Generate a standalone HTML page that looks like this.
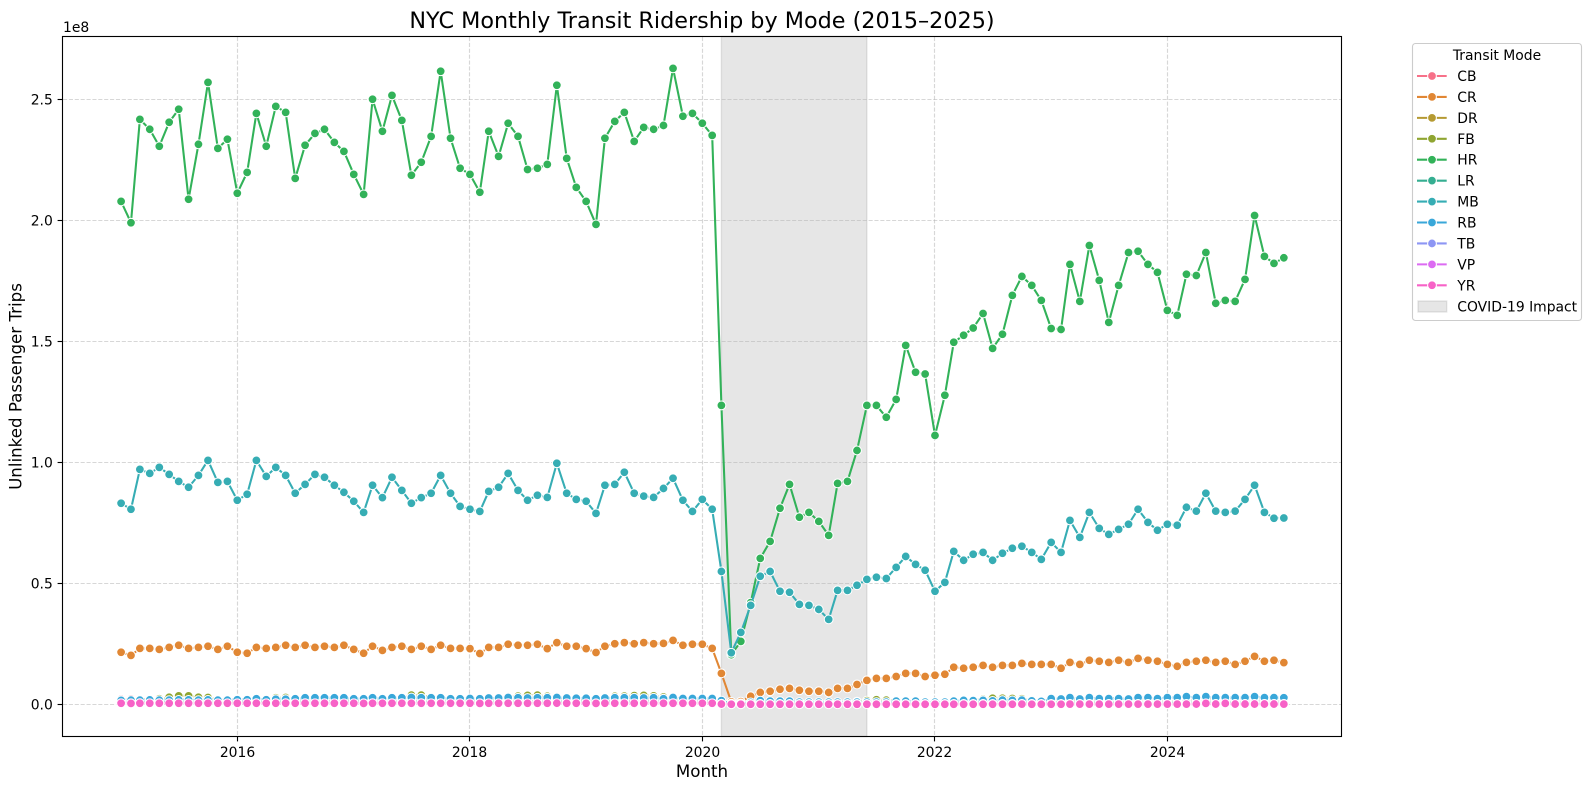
<!DOCTYPE html>
<html lang="en">
<head>
<meta charset="utf-8">
<title>NYC Monthly Transit Ridership by Mode</title>
<style>
html,body{margin:0;padding:0;background:#fff;}
svg{display:block;font-family:"DejaVu Sans","Liberation Sans",sans-serif;}
</style>
</head>
<body>
<svg id="chart" xmlns="http://www.w3.org/2000/svg" width="1591" height="790" viewBox="0 0 1591 790">
  <rect x="0" y="0" width="1591" height="790" fill="#ffffff"/>
  <text x="702" y="28" font-size="22.3" text-anchor="middle" fill="#000">NYC Monthly Transit Ridership by Mode (2015–2025)</text>
  <g id="span-layer"></g>
  <g id="grid-layer"></g>
  <g id="series-layer"></g>
  <rect x="62.5" y="36.5" width="1279" height="700" fill="none" stroke="#000" stroke-width="1.11"/>
  <g id="tick-layer"></g>
  <text x="63" y="32" font-size="13.9" fill="#000">1e8</text>
  <text x="702" y="777" font-size="16.67" text-anchor="middle" fill="#000">Month</text>
  <text x="21.7" y="386.5" font-size="16.67" text-anchor="middle" fill="#000" transform="rotate(-90 21.7 386.5)">Unlinked Passenger Trips</text>
  <g id="legend-layer">
    <rect x="1412.5" y="43.5" width="169" height="277" rx="3" ry="3" fill="#fff" fill-opacity="0.8" stroke="#cccccc" stroke-width="1.1"/>
    <text x="1497" y="60" font-size="13.9" text-anchor="middle" fill="#000">Transit Mode</text>
  </g>
</svg>
<script>
const months = ["2015-01","2015-02","2015-03","2015-04","2015-05","2015-06","2015-07","2015-08","2015-09","2015-10","2015-11","2015-12",
"2016-01","2016-02","2016-03","2016-04","2016-05","2016-06","2016-07","2016-08","2016-09","2016-10","2016-11","2016-12",
"2017-01","2017-02","2017-03","2017-04","2017-05","2017-06","2017-07","2017-08","2017-09","2017-10","2017-11","2017-12",
"2018-01","2018-02","2018-03","2018-04","2018-05","2018-06","2018-07","2018-08","2018-09","2018-10","2018-11","2018-12",
"2019-01","2019-02","2019-03","2019-04","2019-05","2019-06","2019-07","2019-08","2019-09","2019-10","2019-11","2019-12",
"2020-01","2020-02","2020-03","2020-04","2020-05","2020-06","2020-07","2020-08","2020-09","2020-10","2020-11","2020-12",
"2021-01","2021-02","2021-03","2021-04","2021-05","2021-06","2021-07","2021-08","2021-09","2021-10","2021-11","2021-12",
"2022-01","2022-02","2022-03","2022-04","2022-05","2022-06","2022-07","2022-08","2022-09","2022-10","2022-11","2022-12",
"2023-01","2023-02","2023-03","2023-04","2023-05","2023-06","2023-07","2023-08","2023-09","2023-10","2023-11","2023-12",
"2024-01","2024-02","2024-03","2024-04","2024-05","2024-06","2024-07","2024-08","2024-09","2024-10","2024-11","2024-12",
"2025-01"];

/* Monthly unlinked passenger trips, in millions */
const cb = [2.1,2.2,2.2,2.2,2.2,2.2,2.1,2.1,2.1,2.2,2.1,2.1,
2.0,2.0,2.2,2.1,2.1,2.1,2.0,2.0,2.1,2.1,2.0,2.0,
1.9,1.9,2.1,2.0,2.0,2.0,1.9,1.9,2.0,2.1,2.0,1.9,
1.9,1.8,2.0,2.0,2.0,1.9,1.9,1.9,1.9,2.0,1.9,1.9,
1.8,1.7,1.9,1.9,1.9,1.9,1.8,1.8,1.9,1.9,1.8,1.8,
1.8,1.7,1.0,0.1,0.1,0.2,0.3,0.3,0.4,0.4,0.4,0.4,
0.4,0.4,0.5,0.5,0.5,0.6,0.6,0.6,0.6,0.7,0.7,0.6,
0.6,0.6,0.7,0.7,0.7,0.7,0.7,0.7,0.8,0.8,0.8,0.7,
0.7,0.7,0.8,0.8,0.8,0.8,0.7,0.8,0.8,0.8,0.8,0.8,
0.8,0.8,0.8,0.8,0.9,0.8,0.8,0.8,0.8,0.9,0.8,0.8,
0.8];
const cr = [21.5,20.2,23.1,23.1,22.7,23.5,24.4,23.1,23.5,24.0,22.7,24.0,
21.5,21.1,23.5,23.1,23.5,24.4,23.5,24.4,23.5,24.0,23.5,24.4,
22.7,21.1,24.0,22.3,23.5,24.0,22.7,24.0,22.7,24.4,23.1,23.1,
23.0,21.0,23.5,23.5,24.8,24.4,24.4,24.8,23.0,25.5,24.0,24.0,
23.0,21.4,24.0,25.0,25.5,25.0,25.5,25.0,25.2,26.4,24.4,24.8,
24.8,23.1,12.8,1.0,1.1,3.3,4.9,5.4,6.2,6.6,5.8,5.4,
5.4,4.9,6.6,6.6,8.2,9.9,10.7,10.7,11.5,12.8,12.8,11.5,
12.0,12.4,15.3,14.9,15.3,16.1,15.3,16.1,16.1,16.9,16.5,16.5,
16.5,14.9,17.3,16.5,18.2,17.8,17.3,18.2,17.3,19.0,18.2,17.8,
16.5,15.7,17.3,17.8,18.2,17.3,17.8,16.5,17.8,19.8,17.8,18.2,
17.2];
const dr = [0.9,0.8,0.9,0.9,0.9,0.9,0.9,0.9,0.9,0.9,0.9,0.9,
0.9,0.9,0.9,0.9,0.9,0.9,0.9,0.9,0.9,1.0,0.9,0.9,
0.9,0.8,1.0,0.9,0.9,1.0,0.9,0.9,0.9,1.0,0.9,0.9,
0.9,0.8,0.9,0.9,1.0,1.0,0.9,1.0,0.9,1.0,0.9,0.9,
0.9,0.8,0.9,0.9,1.0,0.9,0.9,0.9,0.9,1.0,0.9,0.9,
0.9,0.8,0.5,0.1,0.1,0.2,0.2,0.2,0.2,0.3,0.2,0.2,
0.2,0.2,0.3,0.3,0.3,0.3,0.3,0.3,0.3,0.4,0.3,0.3,
0.3,0.3,0.4,0.4,0.4,0.4,0.4,0.4,0.4,0.5,0.4,0.4,
0.4,0.4,0.5,0.5,0.5,0.5,0.5,0.5,0.5,0.5,0.5,0.5,
0.5,0.5,0.5,0.5,0.6,0.5,0.5,0.5,0.5,0.6,0.5,0.5,
0.5];
const fb = [1.5,1.4,1.9,2.0,2.3,2.9,3.5,3.5,2.9,2.8,2.0,1.8,
1.5,1.4,1.8,2.0,2.7,2.8,2.5,2.5,2.2,2.0,1.9,1.7,
1.4,1.3,1.6,1.9,2.4,2.8,3.8,3.8,3.0,2.7,1.9,1.7,
1.4,1.3,1.7,2.0,3.1,3.4,3.7,3.8,3.3,3.1,2.0,1.8,
1.4,1.3,1.8,3.3,3.4,3.6,3.7,3.5,3.0,2.7,1.9,1.7,
1.3,1.2,0.7,0.1,0.2,0.5,0.9,1.0,0.9,0.8,0.6,0.5,
0.4,0.4,0.6,0.8,1.1,1.5,1.9,1.7,1.6,1.5,1.1,0.9,
0.7,0.7,1.0,1.4,1.8,2.1,2.5,2.5,2.4,2.3,1.7,1.4,
1.1,1.0,1.3,1.7,2.0,2.2,2.6,2.5,2.3,2.2,1.8,1.5,
1.1,1.1,1.4,1.8,2.0,2.3,2.6,2.5,2.3,2.2,1.9,1.5,
1.2];
const hr = [207.8,199.0,241.7,237.6,230.6,240.5,245.9,208.7,231.4,257.0,229.7,233.5,
211.2,219.8,244.2,230.6,247.1,244.6,217.3,231.0,235.9,237.6,232.2,228.5,
219.0,210.7,250.0,236.8,251.6,241.3,218.6,224.0,234.7,261.6,233.9,221.5,
219.0,211.6,236.8,226.4,240.1,234.7,221.0,221.5,223.1,255.8,225.6,213.6,
207.8,198.3,233.9,240.9,244.6,232.6,238.4,237.6,239.2,262.8,243.0,244.2,
240.1,235.1,123.5,20.5,26.0,42.0,60.3,67.3,81.0,90.9,77.3,79.3,
75.6,69.8,91.3,92.1,104.9,123.5,123.5,118.6,126.0,148.3,137.2,136.5,
111.1,127.7,149.6,152.5,155.5,161.5,147.1,152.9,169.0,176.8,173.1,166.9,
155.3,154.9,181.8,166.5,189.6,175.2,157.8,173.1,186.7,187.2,181.8,178.5,
162.8,160.7,177.7,177.2,186.7,165.7,166.9,166.5,175.6,202.0,185.1,182.2,
184.5];
const lr = [1.3,1.2,1.4,1.4,1.4,1.4,1.4,1.4,1.4,1.4,1.3,1.3,
1.3,1.3,1.4,1.4,1.4,1.4,1.4,1.4,1.4,1.4,1.3,1.3,
1.3,1.2,1.4,1.4,1.4,1.4,1.3,1.4,1.4,1.4,1.3,1.3,
1.3,1.2,1.4,1.4,1.4,1.4,1.3,1.4,1.4,1.4,1.3,1.3,
1.2,1.2,1.3,1.4,1.4,1.3,1.3,1.3,1.4,1.4,1.3,1.3,
1.2,1.2,0.7,0.1,0.2,0.3,0.4,0.5,0.5,0.5,0.5,0.5,
0.5,0.5,0.6,0.6,0.7,0.7,0.7,0.7,0.7,0.8,0.8,0.7,
0.6,0.7,0.8,0.8,0.9,0.9,0.9,0.9,0.9,1.0,1.0,0.9,
0.9,0.9,1.0,1.0,1.0,1.0,1.0,1.0,1.0,1.0,1.0,1.0,
1.0,1.0,1.0,1.0,1.1,1.0,1.0,1.0,1.0,1.1,1.0,1.0,
1.0];
const mb = [83.1,80.6,97.1,95.4,97.9,95.0,92.1,89.7,94.6,100.8,91.7,92.1,
84.3,86.8,100.8,94.2,97.9,94.6,87.2,90.9,95.0,93.8,90.5,87.6,
83.9,79.3,90.5,85.4,93.8,88.4,83.1,85.4,87.2,94.6,87.2,81.8,
80.6,79.7,88.0,89.7,95.4,88.4,84.3,86.4,85.5,99.6,87.2,84.7,
83.9,78.9,90.5,90.9,95.9,87.2,86.0,85.5,89.2,93.4,84.3,79.7,
84.7,80.6,54.9,21.3,29.7,40.9,52.9,54.9,46.7,46.3,41.3,40.9,
39.2,35.1,47.1,47.1,49.2,51.6,52.5,52.0,56.6,61.1,57.8,55.4,
46.7,50.4,63.2,59.5,62.0,62.8,59.5,62.4,64.5,65.3,62.8,59.9,
66.9,62.8,76.0,69.0,79.3,72.7,70.2,72.3,74.4,80.6,75.2,71.9,
74.4,74.0,81.4,79.8,87.2,79.8,79.3,79.8,84.7,90.5,79.3,76.9,
77.0];
const rb = [1.6,1.7,1.7,1.8,1.7,1.7,1.8,1.8,1.7,1.8,1.7,1.7,
1.9,1.9,2.3,1.9,2.1,2.1,2.3,2.7,2.7,2.7,2.7,2.7,
2.3,2.3,2.7,2.3,2.7,2.7,2.8,2.7,2.7,2.7,2.3,2.3,
2.4,2.3,2.6,2.6,2.8,2.7,2.6,2.7,2.7,2.8,2.6,2.5,
2.5,2.3,2.6,2.7,2.7,2.7,2.6,2.7,2.3,2.8,2.4,2.4,
2.4,2.4,1.5,0.3,0.4,0.8,1.5,1.3,1.3,1.3,0.9,0.9,
0.9,0.9,0.9,0.9,0.9,0.9,0.9,0.9,1.3,1.3,1.3,0.9,
0.9,0.9,1.3,1.6,1.5,1.6,1.4,1.7,1.6,1.7,1.4,1.2,
2.35,2.2,2.75,2.2,2.75,2.35,2.35,2.35,2.2,2.75,2.75,2.35,
2.75,2.75,3.15,2.75,3.15,2.75,2.75,2.75,2.75,3.15,2.75,2.75,
2.7];
const tb = [0.3,0.3,0.3,0.3,0.3,0.3,0.3,0.3,0.3,0.3,0.3,0.3,
0.3,0.3,0.3,0.3,0.3,0.3,0.3,0.3,0.3,0.3,0.3,0.3,
0.3,0.3,0.3,0.3,0.3,0.3,0.3,0.3,0.3,0.3,0.3,0.3,
0.3,0.3,0.3,0.3,0.3,0.3,0.3,0.3,0.3,0.3,0.3,0.3,
0.3,0.3,0.3,0.3,0.3,0.3,0.3,0.3,0.3,0.3,0.3,0.3,
0.3,0.3,0.2,0.1,0.1,0.1,0.1,0.1,0.1,0.1,0.1,0.1,
0.1,0.1,0.1,0.1,0.1,0.1,0.1,0.1,0.1,0.1,0.1,0.1,
0.1,0.1,0.1,0.1,0.1,0.1,0.1,0.1,0.1,0.1,0.1,0.1,
0.1,0.1,0.1,0.1,0.1,0.1,0.1,0.1,0.1,0.1,0.1,0.1,
0.1,0.1,0.1,0.1,0.1,0.1,0.1,0.1,0.1,0.1,0.1,0.1,
0.1];
const vp = [0.35,0.33,0.36,0.36,0.36,0.37,0.36,0.36,0.36,0.37,0.35,0.35,
0.36,0.35,0.37,0.37,0.37,0.37,0.36,0.37,0.37,0.37,0.36,0.36,
0.36,0.34,0.38,0.37,0.37,0.38,0.36,0.37,0.37,0.38,0.37,0.36,
0.36,0.34,0.37,0.37,0.38,0.37,0.36,0.37,0.36,0.38,0.36,0.35,
0.35,0.33,0.36,0.36,0.37,0.36,0.35,0.36,0.35,0.37,0.35,0.34,
0.34,0.32,0.22,0.08,0.08,0.09,0.1,0.1,0.1,0.1,0.1,0.1,
0.1,0.1,0.11,0.11,0.12,0.12,0.12,0.12,0.12,0.13,0.13,0.12,
0.11,0.12,0.13,0.13,0.13,0.14,0.13,0.14,0.14,0.14,0.14,0.13,
0.13,0.13,0.14,0.14,0.14,0.14,0.14,0.14,0.14,0.15,0.14,0.14,
0.14,0.14,0.15,0.15,0.15,0.15,0.15,0.15,0.15,0.16,0.15,0.15,
0.15];
const yr = [0.42,0.4,0.45,0.44,0.45,0.45,0.44,0.44,0.44,0.45,0.43,0.44,
0.42,0.42,0.45,0.44,0.45,0.45,0.44,0.45,0.44,0.45,0.44,0.44,
0.42,0.4,0.45,0.43,0.45,0.45,0.43,0.45,0.43,0.45,0.44,0.43,
0.42,0.4,0.44,0.44,0.45,0.45,0.44,0.45,0.44,0.46,0.44,0.43,
0.42,0.4,0.44,0.44,0.45,0.44,0.44,0.44,0.44,0.45,0.43,0.43,
0.43,0.42,0.1,0.0,0.0,0.0,0.03,0.03,0.03,0.03,0.03,0.03,
0.02,0.02,0.03,0.03,0.03,0.04,0.04,0.04,0.04,0.04,0.04,0.04,
0.03,0.03,0.04,0.04,0.04,0.04,0.04,0.04,0.04,0.05,0.04,0.04,
0.04,0.04,0.05,0.05,0.05,0.05,0.05,0.05,0.05,0.05,0.05,0.05,
0.05,0.05,0.05,0.1,0.4,0.1,0.4,0.1,0.1,0.1,0.1,0.1,
0.05];

const modeNames = ["CB","CR","DR","FB","HR","LR","MB","RB","TB","VP","YR"];
const modeValues = [cb,cr,dr,fb,hr,lr,mb,rb,tb,vp,yr];
const modeColors = ["#f77189","#e18734","#b59a32","#8fa531","#32b259","#35ae91","#36adb4","#39a7d9","#8d96f4","#dc6bf2","#f762c7"];

const xTickYears = ["2016","2018","2020","2022","2024"];
const yTickValues = [0,50,100,150,200,250];
const yTickLabels = ["0.0","0.5","1.0","1.5","2.0","2.5"];
const covidStart = "2020-03";
const covidEnd = "2021-06";
const covidLabel = "COVID-19 Impact";

const SVGNS = "http://www.w3.org/2000/svg";
const DAY = 86400000;
const epoch = Date.UTC(2015,0,1);
const MARKER_R = 4.4;
function monthToDays(m){
  const p = m.split("-");
  return (Date.UTC(+p[0], +p[1]-1, 1) - epoch) / DAY;
}
function xScale(m){ return 121.1 + monthToDays(m) * 0.3183; }
function yScale(v){ return 704.3 - v * 2.42; }
function snap(p){ return Math.floor(p) + 0.5; }
function el(tag, parent, attrs){
  const e = document.createElementNS(SVGNS, tag);
  for (const k in attrs) e.setAttribute(k, attrs[k]);
  parent.appendChild(e);
  return e;
}

const spanLayer = document.getElementById("span-layer");
const gridLayer = document.getElementById("grid-layer");
const seriesLayer = document.getElementById("series-layer");
const tickLayer = document.getElementById("tick-layer");
const legendLayer = document.getElementById("legend-layer");

/* COVID span */
const span = el("rect", spanLayer, {x:xScale(covidStart), y:36.5, width:xScale(covidEnd)-xScale(covidStart), height:700, fill:"#808080", "fill-opacity":0.2, stroke:"#808080", "stroke-opacity":0.2, "stroke-width":1.4});



/* X grid + ticks */
xTickYears.forEach(function(year){
  const px = snap(xScale(year + "-01"));
  const g = el("line", gridLayer, {x1:px, x2:px, y1:37, y2:736, stroke:"#b0b0b0", "stroke-opacity":0.5, "stroke-width":1.11, "stroke-dasharray":"4.1 1.78"});
  
  
  const t = el("line", tickLayer, {x1:px, x2:px, y1:736.5, y2:741.4, stroke:"#000", "stroke-width":1.11});
  
  
  const l = el("text", tickLayer, {x:px, y:757, "font-size":13.9, "text-anchor":"middle", fill:"#000"});
  l.textContent = year;
  
  
});

/* Y grid + ticks */
yTickValues.forEach(function(v, i){
  const py = snap(yScale(v));
  const g = el("line", gridLayer, {x1:63, x2:1341, y1:py, y2:py, stroke:"#b0b0b0", "stroke-opacity":0.5, "stroke-width":1.11, "stroke-dasharray":"4.1 1.78"});
  
  
  const t = el("line", tickLayer, {x1:57.6, x2:62.5, y1:py, y2:py, stroke:"#000", "stroke-width":1.11});
  
  
  const l = el("text", tickLayer, {x:52.8, y:py+5, "font-size":13.9, "text-anchor":"end", fill:"#000"});
  l.textContent = yTickLabels[i];
  
  
});

/* Series */
modeNames.forEach(function(name, i){
  const values = modeValues[i];
  const color = modeColors[i];
  const group = el("g", seriesLayer, {});
  
  
  const pts = values.map(function(v, j){ return xScale(months[j]).toFixed(2) + "," + yScale(v).toFixed(2); }).join(" ");
  const line = el("polyline", group, {points:pts, fill:"none", stroke:color, "stroke-width":2.08, "stroke-linejoin":"round", "stroke-linecap":"butt"});
  
  
  values.forEach(function(v, j){
    const c = el("circle", group, {cx:xScale(months[j]).toFixed(2), cy:yScale(v).toFixed(2), r:MARKER_R, fill:color, stroke:"#fff", "stroke-width":1.04});
    
    
  });
});

/* Legend */
modeNames.forEach(function(name, i){
  const cy = 76 + i * 20.93;
  const g = el("g", legendLayer, {});
  
  
  el("line", g, {x1:1417, x2:1446.7, y1:cy, y2:cy, stroke:modeColors[i], "stroke-width":2.08});
  el("circle", g, {cx:1432, cy:cy, r:MARKER_R, fill:modeColors[i], stroke:"#fff", "stroke-width":1.04});
  const t = el("text", g, {x:1457.3, y:cy+5, "font-size":13.9, fill:"#000"});
  t.textContent = name;
});
const covidEntry = el("g", legendLayer, {});


el("rect", covidEntry, {x:1418, y:301, width:28.7, height:11, fill:"#808080", "fill-opacity":0.2, stroke:"#808080", "stroke-opacity":0.2, "stroke-width":1.4});
const covidText = el("text", covidEntry, {x:1457.3, y:311.5, "font-size":13.9, fill:"#000"});
covidText.textContent = covidLabel;
</script>
</body>
</html>
